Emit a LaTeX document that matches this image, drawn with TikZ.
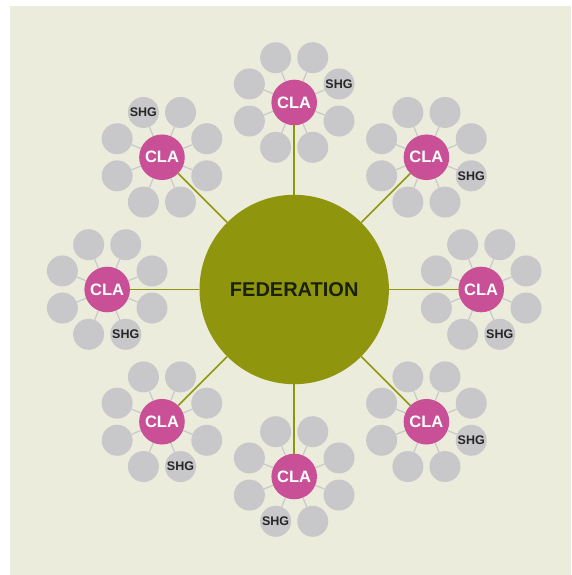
\documentclass[tikz,border=0pt]{standalone}
\usepackage{fontspec}
\setmainfont{Liberation Sans}
\usepackage{tikz}
\usetikzlibrary{positioning}
\definecolor{fedgreen}{HTML}{8F960E}
\definecolor{clapink}{HTML}{C94F96}
\definecolor{shggrey}{HTML}{C8C8CA}
\definecolor{bgbeige}{HTML}{ECECDC}
\definecolor{fedtext}{HTML}{1B2008}
\definecolor{shgtext}{HTML}{262626}

\begin{document}
\begin{tikzpicture}[x=1pt, y=1pt,
                fed/.style={circle, fill=fedgreen, minimum size=189.4pt, inner sep=0pt, text=fedtext, font=\fontsize{20}{20}\selectfont\bfseries},
                cla/.style={circle, fill=clapink, minimum size=45.6pt, inner sep=0pt, text=white, font=\fontsize{16.5}{16.5}\selectfont\bfseries},
                shg/.style={circle, fill=shggrey, minimum size=31pt, inner sep=0pt, text=shgtext, font=\fontsize{12.5}{12.5}\selectfont\bfseries},
                spoke/.style={draw=shggrey, line width=1.2pt},
                link/.style={draw=fedgreen, line width=1.5pt}]
                \useasboundingbox[fill=white] (-294.2,-285.5) rectangle (276.8,289.5);
                \fill[bgbeige] (-284.2,-285.5) rectangle (276.8,283);
                \node[fed] (fed) at (0,0) {FEDERATION};
                \foreach \a/\s [count=\i] in {90/22.5, 45/337.5, 0/292.5, -45/337.5, -90/247.5, -135/292.5, 180/292.5, 135/112.5} {
                    \node[cla] (cla\i) at (\a:187) {CLA};
                    \path[link] (fed) -- (cla\i);
                    \foreach \b [count=\j] in {22.5,67.5,...,337.5} {
                        \ifdim\b pt=\s pt
                            \path (cla\i) ++(\b:48.5) node[shg] (shg\i-\j) {SHG};
                        \else
                            \path (cla\i) ++(\b:48.5) node[shg] (shg\i-\j) {};
                        \fi
                        \path[spoke] (cla\i) -- (shg\i-\j);
                    }
                }
            \end{tikzpicture}
\end{document}
